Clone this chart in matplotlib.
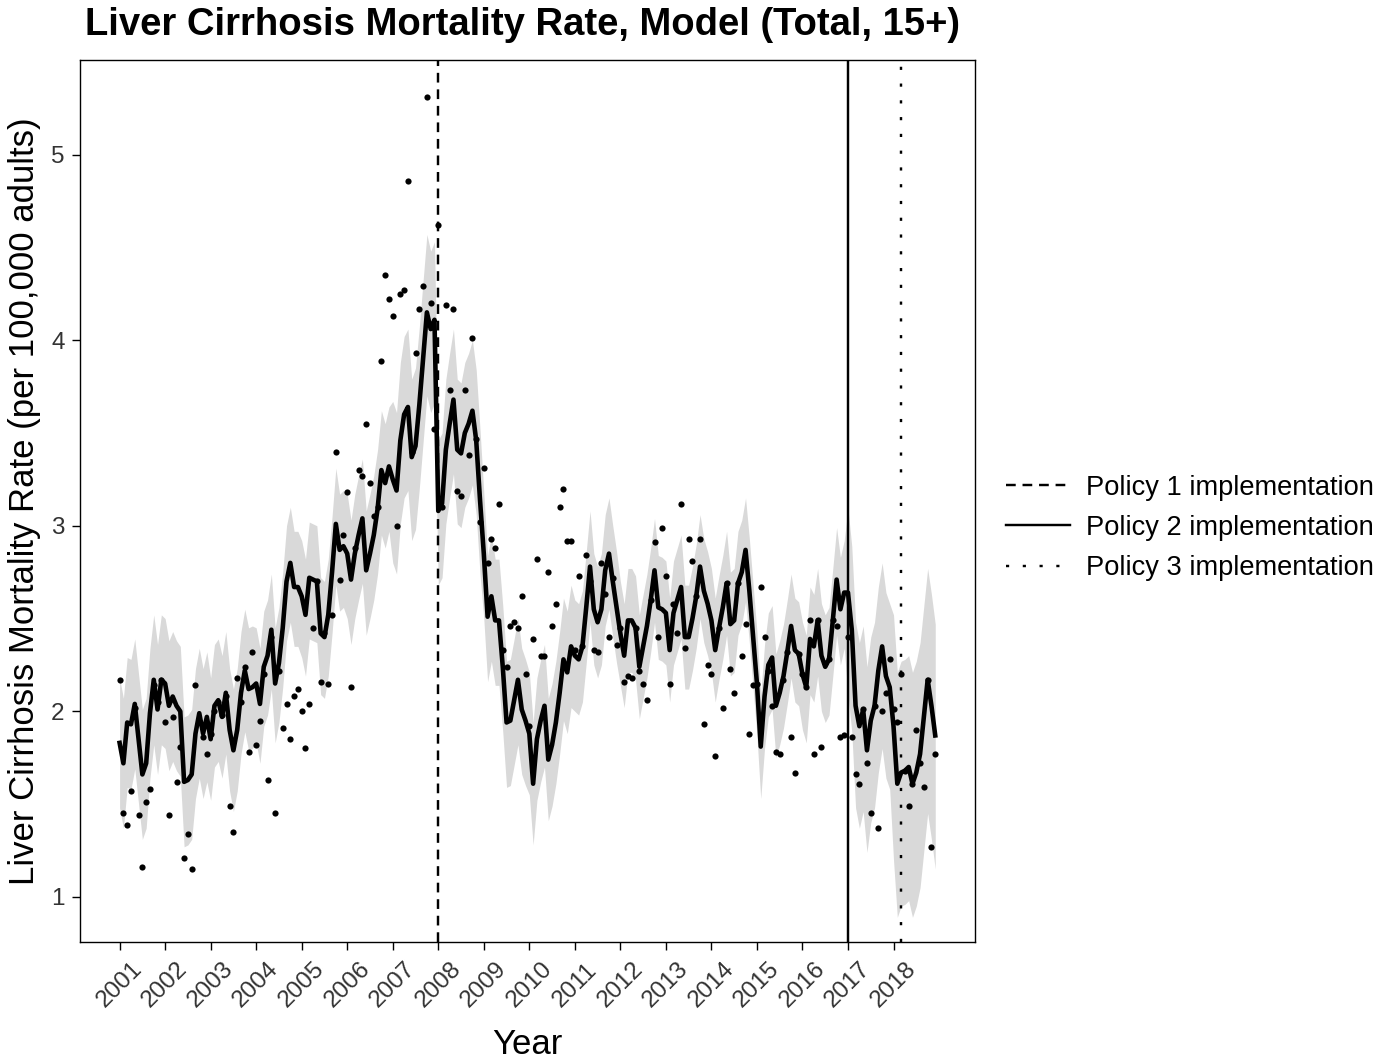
import numpy as np
import matplotlib
matplotlib.use('Agg')
import matplotlib.pyplot as plt
import matplotlib.transforms as mtransforms
from matplotlib.lines import Line2D

plt.rcParams['font.family'] = ['Liberation Sans', 'DejaVu Sans']

# monthly series, Jan 2001 .. Dec 2018
start_year = 2001
years = list(range(2001, 2019))

# fitted model (per 100,000 adults)
fit = [
    1.83, 1.72, 1.94, 1.93, 2.04, 1.85, 1.66, 1.72, 1.99, 2.17, 2.01, 2.17,
    2.15, 2.03, 2.08, 2.03, 2.00, 1.62, 1.63, 1.66, 1.88, 1.99, 1.88, 1.97,
    1.85, 2.03, 2.06, 1.97, 2.10, 1.90, 1.79, 1.90, 2.10, 2.22, 2.12, 2.13,
    2.15, 2.04, 2.24, 2.30, 2.44, 2.15, 2.26, 2.45, 2.70, 2.80, 2.67, 2.67,
    2.62, 2.52, 2.72, 2.71, 2.70, 2.42, 2.40, 2.52, 2.75, 3.01, 2.87, 2.89,
    2.85, 2.71, 2.85, 2.95, 3.04, 2.76, 2.85, 2.95, 3.09, 3.30, 3.23, 3.32,
    3.25, 3.19, 3.46, 3.60, 3.64, 3.37, 3.43, 3.65, 3.90, 4.15, 4.06, 4.11,
    3.08, 3.12, 3.41, 3.55, 3.68, 3.41, 3.39, 3.50, 3.55, 3.62, 3.46, 3.14,
    2.85, 2.51, 2.62, 2.49, 2.49, 2.24, 1.94, 1.95, 2.06, 2.17, 2.01, 1.95,
    1.88, 1.61, 1.85, 1.95, 2.03, 1.74, 1.82, 1.94, 2.10, 2.28, 2.21, 2.35,
    2.30, 2.28, 2.35, 2.56, 2.78, 2.55, 2.48, 2.55, 2.76, 2.85, 2.70, 2.56,
    2.42, 2.30, 2.49, 2.49, 2.45, 2.24, 2.35, 2.46, 2.60, 2.76, 2.56, 2.55,
    2.53, 2.33, 2.53, 2.60, 2.67, 2.40, 2.40, 2.50, 2.62, 2.78, 2.65, 2.58,
    2.49, 2.33, 2.45, 2.56, 2.69, 2.47, 2.49, 2.69, 2.75, 2.87, 2.65, 2.40,
    2.15, 1.81, 2.08, 2.25, 2.29, 2.03, 2.10, 2.19, 2.32, 2.46, 2.33, 2.31,
    2.20, 2.13, 2.39, 2.35, 2.49, 2.30, 2.24, 2.28, 2.49, 2.71, 2.55, 2.64,
    2.64, 2.44, 2.03, 1.92, 2.01, 1.79, 1.95, 2.03, 2.22, 2.35, 2.19, 2.13,
    1.92, 1.61, 1.67, 1.68, 1.70, 1.61, 1.67, 1.77, 1.97, 2.17, 2.03, 1.87,
]

# observed monthly rates
observed = [
    2.17, 1.45, 1.39, 1.57, 2.02, 1.44, 1.16, 1.51, 1.58, 2.14, 2.05, 2.17,
    1.94, 1.44, 1.97, 1.62, 1.81, 1.21, 1.34, 1.15, 2.14, 1.95, 1.86, 1.77,
    1.88, 2.00, 2.05, 1.98, 2.08, 1.49, 1.35, 2.18, 2.05, 2.24, 1.78, 2.32,
    1.82, 1.95, 2.20, 1.63, 2.40, 1.45, 2.22, 1.91, 2.04, 1.85, 2.08, 2.12,
    2.00, 1.80, 2.04, 2.45, 2.70, 2.16, 2.42, 2.15, 2.52, 3.40, 2.71, 2.95,
    3.18, 2.13, 2.88, 3.30, 3.27, 3.55, 3.23, 3.05, 3.10, 3.89, 4.35, 4.22,
    4.13, 3.00, 4.25, 4.27, 4.86, 3.40, 3.93, 4.17, 4.29, 5.31, 4.20, 3.52,
    4.62, 3.10, 4.19, 3.73, 4.17, 3.19, 3.16, 3.73, 3.38, 4.01, 3.47, 3.02,
    3.31, 2.80, 2.93, 2.88, 3.12, 2.33, 2.24, 2.46, 2.48, 2.45, 2.62, 2.20,
    1.92, 2.39, 2.82, 2.30, 2.30, 2.75, 2.46, 2.58, 3.10, 3.20, 2.92, 2.92,
    2.33, 2.73, 2.35, 2.84, 2.70, 2.33, 2.32, 2.80, 2.63, 2.40, 2.72, 2.36,
    2.45, 2.16, 2.19, 2.18, 2.45, 2.22, 2.15, 2.06, 2.60, 2.91, 2.40, 2.99,
    2.73, 2.15, 2.58, 2.42, 3.12, 2.34, 2.93, 2.81, 2.62, 2.93, 1.93, 2.25,
    2.20, 1.76, 2.45, 2.02, 2.69, 2.23, 2.10, 2.69, 2.30, 2.47, 1.88, 2.14,
    2.15, 2.67, 2.40, 2.22, 2.03, 1.78, 1.77, 2.17, 2.32, 1.86, 1.67, 2.31,
    2.20, 2.13, 2.49, 1.77, 2.49, 1.81, 2.26, 2.28, 2.49, 2.46, 1.86, 1.87,
    2.40, 1.86, 1.66, 1.61, 2.01, 1.72, 1.45, 2.03, 1.37, 2.00, 2.10, 2.28,
    2.01, 1.94, 2.20, 1.68, 1.49, 1.61, 1.90, 1.72, 1.59, 2.17, 1.27, 1.77,
]

# width of the grey band above / below the fit, read per year
band_hi = [0.35, 0.35, 0.33, 0.30, 0.30, 0.32, 0.42, 0.38, 0.33,
           0.33, 0.30, 0.28, 0.28, 0.28, 0.28, 0.28, 0.45, 0.60]
band_lo = [0.35, 0.35, 0.33, 0.32, 0.33, 0.35, 0.45, 0.40, 0.35,
           0.33, 0.30, 0.28, 0.28, 0.28, 0.28, 0.30, 0.55, 0.72]

policy_dates = [2008.0, 2017.0, 2018 + 2 / 12]
policy_labels = ['Policy 1 implementation', 'Policy 2 implementation',
                 'Policy 3 implementation']
policy_styles = [(0, (4, 2.8)), '-', (0, (1.3, 5.6))]

n = len(fit)
t = start_year + np.arange(n) / 12
fit = np.array(fit)
yr = np.arange(n) // 12
upper = fit + np.array(band_hi)[yr]
lower = fit - np.array(band_lo)[yr]

W, H = 1382, 1059
fig = plt.figure(figsize=(W / 100, H / 100), dpi=100)
ax = fig.add_axes([80 / W, 1 - 942 / H, 895 / W, 882 / H])

ax.fill_between(t, lower, upper, color='#d9d9d9', linewidth=0, zorder=1)
for d, ls in zip(policy_dates, policy_styles):
    ax.axvline(d, color='black', linestyle=ls, linewidth=1.75, zorder=2)
ax.scatter(t, observed, s=20, color='black', linewidths=0, zorder=3)
ax.plot(t, fit, color='black', linewidth=3.3, zorder=4)

ax.set_xlim(2000.13, 2019.79)
ax.set_ylim(0.757, 5.51)
ax.set_xticks(years)
ax.set_xticklabels([str(y) for y in years], rotation=45, ha='center',
                   va='center', rotation_mode='anchor', fontsize=17.5,
                   color='#333333')
shift = mtransforms.ScaledTranslation(5 / 100, 0, fig.dpi_scale_trans)
for lab in ax.get_xticklabels():
    lab.set_transform(lab.get_transform() + shift)
ax.set_yticks([1, 2, 3, 4, 5])
ax.tick_params(axis='y', labelsize=17.5, labelcolor='#333333', length=6,
               width=1, pad=5)
ax.tick_params(axis='x', length=6, width=1, pad=25)
for s in ax.spines.values():
    s.set_linewidth(1.0)

ax.set_xlabel('Year', fontsize=25)
ax.xaxis.set_label_coords(0.5, (942 - 1045) / 882)
ax.xaxis.label.set_va('center')
ax.set_ylabel('Liver Cirrhosis Mortality Rate (per 100,000 adults)',
              fontsize=25)
ax.yaxis.set_label_coords((25 - 80) / 895, 0.5)
ax.yaxis.label.set_va('center')
fig.text(85 / W, 1 - 25 / H,
         'Liver Cirrhosis Mortality Rate, Model (Total, 15+)',
         fontsize=27.5, fontweight='bold', ha='left', va='center')

handles = [Line2D([0], [0], color='black', linestyle=ls, linewidth=1.75)
           for ls in policy_styles]
fig.legend(handles, policy_labels, loc='center left',
           bbox_to_anchor=(1006 / W, 1 - 528 / H), frameon=False,
           fontsize=19.6, handlelength=2.35, handletextpad=0.6,
           labelspacing=0.52, borderpad=0, borderaxespad=0)

fig.savefig('out.png', dpi=100)
